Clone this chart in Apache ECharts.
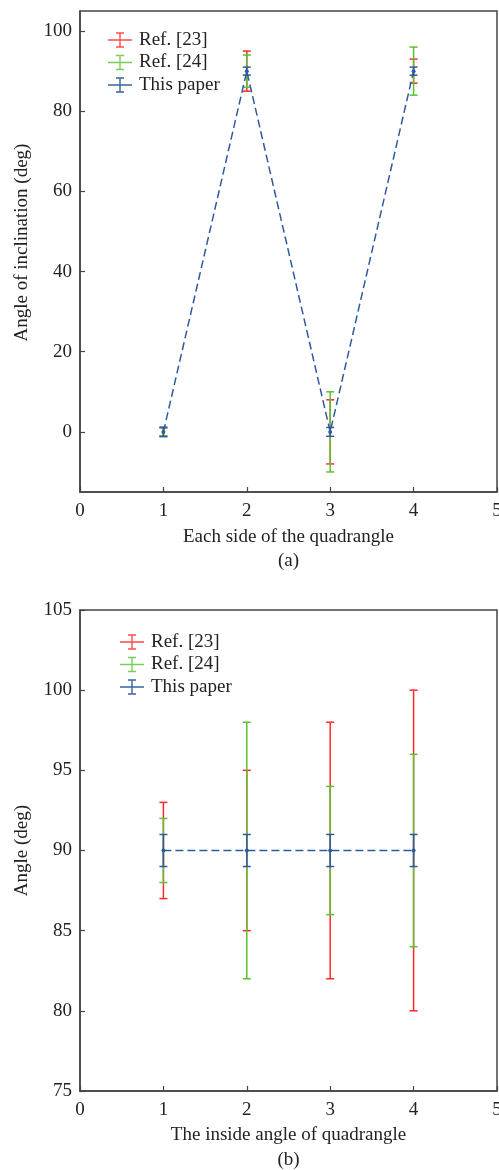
<!DOCTYPE html>
<html>
<head>
<meta charset="utf-8">
<script src="https://cdn.jsdelivr.net/npm/echarts@6/dist/echarts.min.js"></script>
<style>
  html, body { margin: 0; padding: 0; background: #fff; }
  #main { width: 499px; height: 1170px; }
</style>
</head>
<body>
<div id="main"></div>
<script>
// (a) angle of inclination of each side
var sidesX = [1, 2, 3, 4];
var incRef23 = [0, 90, 0, 90];
var incRef23Err = [1, 5, 8, 3];
var incRef24 = [0, 90, 0, 90];
var incRef24Err = [1, 4, 10, 6];
var incOurs = [0, 90, 0, 90];
var incOursErr = [1.2, 1, 1.1, 1];
var incTicks = [0, 20, 40, 60, 80, 100];

// (b) inside angle of the quadrangle
var anglesX = [1, 2, 3, 4];
var angRef23 = [90, 90, 90, 90];
var angRef23Err = [3, 5, 8, 10];
var angRef24 = [90, 90, 90, 90];
var angRef24Err = [2, 8, 4, 6];
var angOurs = [90, 90, 90, 90];
var angOursErr = [1, 1, 1, 1];
var angTicks = [75, 80, 85, 90, 95, 100, 105];

var names = ['Ref. [23]', 'Ref. [24]', 'This paper'];
var colors = ['#ff2a2a', '#5cc230', '#2f5aa0'];

var font = "'Liberation Serif', 'Times New Roman', serif";
var axisColor = '#444';
var textColor = '#222';

// 图例图标：带误差棒的短线
var errIcon = 'path://M0 7.3H24V8.7H0Z M11.3 1H12.7V15H11.3Z M8 0.3H16V1.7H8Z M8 14.3H16V15.7H8Z';

function pack(xs, mean, err) {
  return xs.map(function (x, i) { return [x, mean[i], err[i]]; });
}

function renderErr(params, api) {
  var x = api.value(0), y = api.value(1), e = api.value(2);
  var hi = api.coord([x, y + e]);
  var lo = api.coord([x, y - e]);
  var w = 4;
  var style = { stroke: api.visual('color'), lineWidth: 1.5, opacity: api.visual('opacity') };
  return {
    type: 'group',
    children: [
      { type: 'line', shape: { x1: hi[0], y1: hi[1], x2: lo[0], y2: lo[1] }, style: style },
      { type: 'line', shape: { x1: hi[0] - w, y1: hi[1], x2: hi[0] + w, y2: hi[1] }, style: style },
      { type: 'line', shape: { x1: lo[0] - w, y1: lo[1], x2: lo[0] + w, y2: lo[1] }, style: style }
    ]
  };
}

function errSeries(idx, name, data, color, opacity) {
  return {
    type: 'custom',
    name: name,
    xAxisIndex: idx,
    yAxisIndex: idx,
    renderItem: renderErr,
    itemStyle: { color: color, opacity: opacity },
    encode: { x: 0, y: 1 },
    data: data,
    z: 3
  };
}

function xAxisOf(idx, name, gap, lh) {
  return {
    type: 'value',
    gridIndex: idx,
    min: 0, max: 5, interval: 1,
    name: name,
    nameLocation: 'middle',
    nameGap: gap,
    nameTextStyle: { fontFamily: font, fontSize: 19, color: textColor, lineHeight: lh },
    axisLine: { show: true, onZero: false, lineStyle: { color: axisColor, width: 1.5 } },
    axisTick: { show: true, inside: true, length: 5, lineStyle: { color: axisColor, width: 1.2 } },
    axisLabel: { fontFamily: font, fontSize: 19, color: textColor, margin: 10 },
    splitLine: { show: false }
  };
}

function yAxisOf(idx, name, min, max, ticks, pad) {
  return {
    type: 'value',
    gridIndex: idx,
    min: min, max: max,
    name: name,
    nameLocation: 'middle',
    nameRotate: 90,
    nameGap: 48,
    nameTextStyle: { fontFamily: font, fontSize: 19, color: textColor, padding: pad },
    axisLine: { show: true, onZero: false, lineStyle: { color: axisColor, width: 1.5 } },
    axisTick: { show: true, inside: true, length: 5, customValues: ticks, lineStyle: { color: axisColor, width: 1.2 } },
    axisLabel: { fontFamily: font, fontSize: 19, color: textColor, margin: 8, customValues: ticks },
    splitLine: { show: false }
  };
}

function legendOf(left, top) {
  return {
    orient: 'vertical',
    left: left,
    top: top,
    itemWidth: 24,
    itemHeight: 16,
    itemGap: 2.5,
    textStyle: { fontFamily: font, fontSize: 19, color: textColor, lineHeight: 20, padding: [0, 0, 0, 2] },
    data: names.map(function (n) { return { name: n, icon: errIcon }; })
  };
}

var chart = echarts.init(document.getElementById('main'), null, { renderer: 'canvas' });

var option = {
  backgroundColor: '#fff',
  animation: false,
  grid: [
    { left: 80, top: 11, width: 417, height: 481, outerBoundsMode: 'none', containLabel: false,
      show: true, borderColor: axisColor, borderWidth: 1.5, backgroundColor: 'transparent' },
    { left: 80, top: 610, width: 417, height: 481, outerBoundsMode: 'none', containLabel: false,
      show: true, borderColor: axisColor, borderWidth: 1.5, backgroundColor: 'transparent' }
  ],
  legend: [legendOf(103, 25), legendOf(115, 627)],
  xAxis: [
    xAxisOf(0, 'Each side of the quadrangle\n(a)', 33, 24),
    xAxisOf(1, 'The inside angle of quadrangle\n(b)', 31.5, 25)
  ],
  yAxis: [
    yAxisOf(0, 'Angle of inclination (deg)', -15, 105, incTicks, [0, 0, 0, 18]),
    yAxisOf(1, 'Angle (deg)', 75, 105, angTicks, 0)
  ],
  series: [
    errSeries(0, names[0], pack(sidesX, incRef23, incRef23Err), colors[0], 0.85),
    errSeries(0, names[1], pack(sidesX, incRef24, incRef24Err), colors[1], 0.8),
    errSeries(0, names[2], pack(sidesX, incOurs, incOursErr), colors[2], 0.95),
    {
      type: 'line',
      name: 'inc-line',
      xAxisIndex: 0, yAxisIndex: 0,
      data: sidesX.map(function (x, i) { return [x, incOurs[i]]; }),
      symbol: 'circle', symbolSize: 4,
      itemStyle: { color: colors[2] },
      lineStyle: { color: colors[2], width: 1.5, type: [8, 4] },
      z: 4
    },
    errSeries(1, names[0], pack(anglesX, angRef23, angRef23Err), colors[0], 0.85),
    errSeries(1, names[1], pack(anglesX, angRef24, angRef24Err), colors[1], 0.8),
    errSeries(1, names[2], pack(anglesX, angOurs, angOursErr), colors[2], 0.95),
    {
      type: 'line',
      name: 'ang-line',
      xAxisIndex: 1, yAxisIndex: 1,
      data: anglesX.map(function (x, i) { return [x, angOurs[i]]; }),
      symbol: 'circle', symbolSize: 4,
      itemStyle: { color: colors[2] },
      lineStyle: { color: colors[2], width: 1.5, type: [8, 4] },
      z: 4
    }
  ]
};

chart.setOption(option);
</script>
</body>
</html>
